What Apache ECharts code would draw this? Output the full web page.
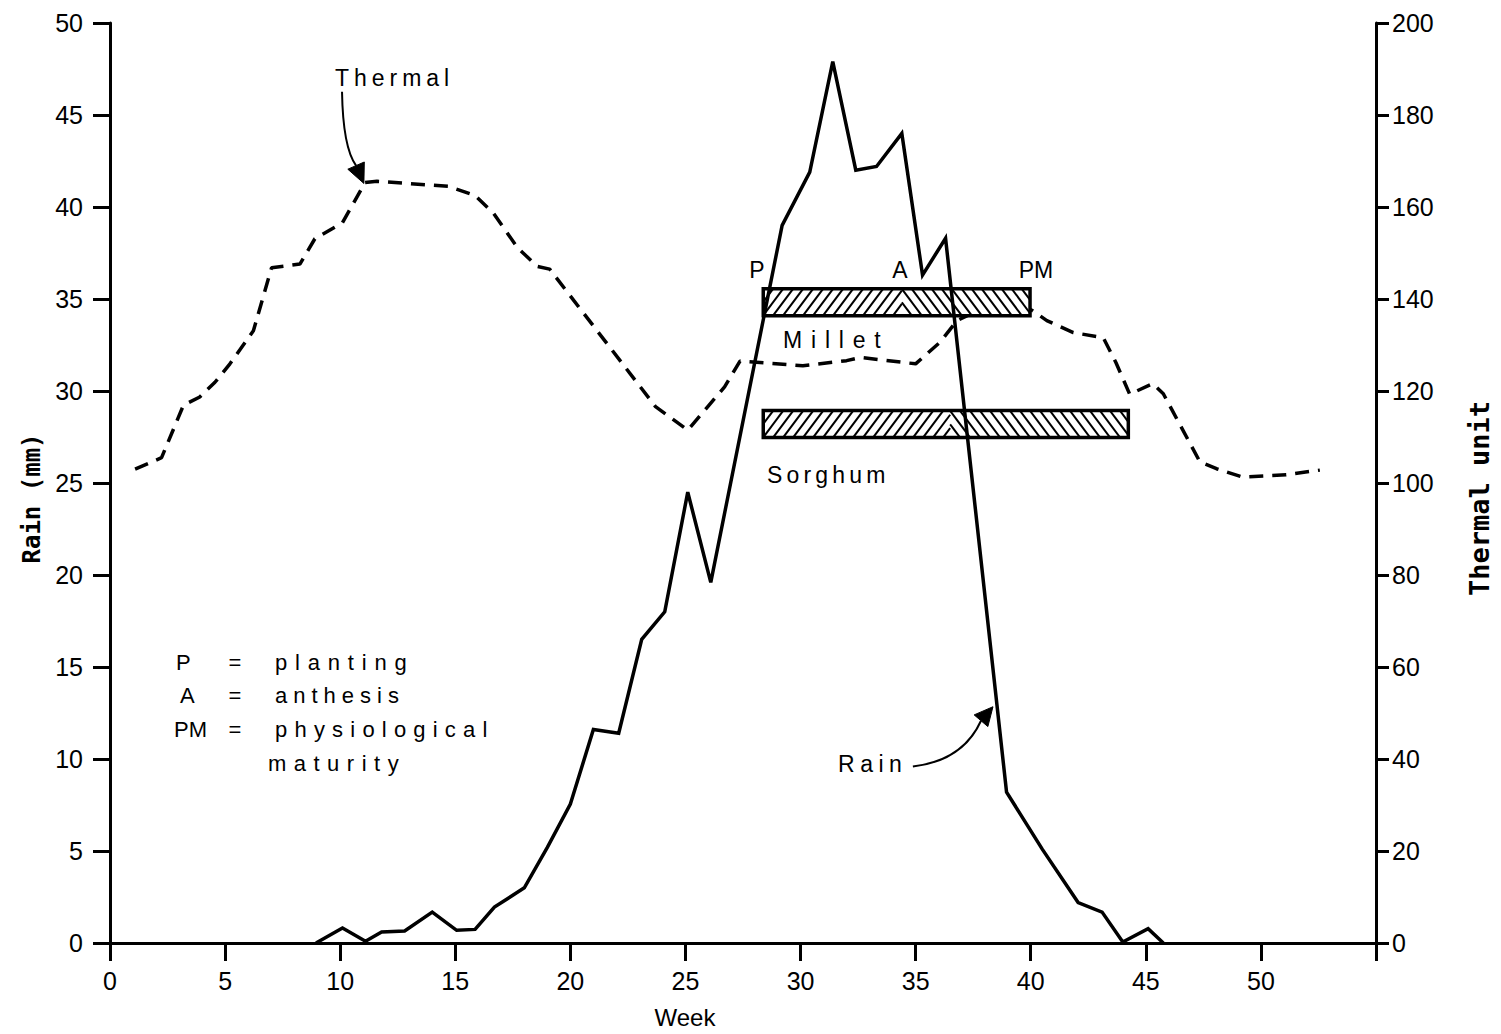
<!DOCTYPE html>
<html>
<head>
<meta charset="utf-8">
<script src="https://cdn.jsdelivr.net/npm/echarts@6/dist/echarts.min.js"></script>
<style>
  html, body { margin: 0; padding: 0; background: #fff; }
  #chart { width: 1501px; height: 1034px; }
</style>
</head>
<body>
<div id="chart"></div>
<script>
// Weekly rainfall (mm) – solid line, left axis
const rainWeek = [8.95, 10.1, 11.1, 11.8, 12.8, 14.0, 15.06, 15.86, 16.7, 18.0, 19.0, 20.0, 21.0, 22.1,
                  23.1, 24.1, 25.1, 26.1, 29.2, 30.4, 31.4, 32.4, 33.3, 34.4, 35.3, 36.3, 38.95, 40.5,
                  42.06, 43.1, 44.0, 45.1, 45.76];
const rainMm = [0, 0.81, 0.1, 0.6, 0.65, 1.68, 0.69, 0.74, 1.95, 3.0, 5.2, 7.55, 11.6, 11.4,
                16.5, 18.0, 24.5, 19.6, 39.0, 41.9, 47.9, 42.0, 42.2, 44.0, 36.3, 38.3, 8.2, 5.1,
                2.2, 1.68, 0.05, 0.78, 0];

// Weekly thermal units – dashed line, right axis
const thermalWeek = [1.09, 2.24, 3.19, 3.9, 4.56, 5.21, 6.23, 7.02, 8.25, 8.9, 10.1, 11.08, 11.6, 14.7,
                     15.86, 16.65, 17.7, 18.55, 19.1, 23.7, 25.1, 26.7, 27.37, 30.1, 32.0, 32.6, 35.0,
                     36.06, 36.8, 39.0, 40.1, 40.7, 41.85, 43.15, 43.7, 44.3, 45.3, 45.76, 47.35, 48.07,
                     49.2, 51.1, 52.56];
const thermalUnit = [103.0, 105.5, 116.9, 118.7, 121.9, 125.9, 133.1, 146.8, 147.6, 153.1, 156.6, 165.3, 165.6, 164.5,
                     162.5, 158.7, 151.2, 147.1, 146.5, 116.6, 111.5, 120.9, 126.5, 125.5, 126.6, 127.3, 125.9,
                     130.6, 135.3, 140.6, 137.4, 135.3, 132.7, 131.6, 126.2, 119.3, 121.6, 119.4, 104.6, 103.1,
                     101.3, 101.8, 102.8];

// Crop calendar: planting (P), anthesis (A), physiological maturity (PM), in weeks
const crops = ['Millet', 'Sorghum'];
const plantingWeek = [28.38, 28.38];
const anthesisWeek = [34.4, 36.5];
const maturityWeek = [39.97, 44.24];
const barLevelMm = [34.83, 28.2];

// Tick labels
const weekTicks = ['0', '5', '10', '15', '20', '25', '30', '35', '40', '45', '50'];
const rainTicks = ['0', '5', '10', '15', '20', '25', '30', '35', '40', '45', '50'];
const thermalTicks = ['0', '20', '40', '60', '80', '100', '120', '140', '160', '180', '200'];

const SANS = '"Liberation Sans", Arial, Helvetica, sans-serif';
const MONO = '"DejaVu Sans Mono", "Liberation Mono", monospace';

// Text annotations placed in (week, mm) coordinates
const notes = [
  { text: 'Thermal', at: [9.77, 47.0], align: 'left', size: 23 },
  { text: 'P', at: [28.1, 36.57], align: 'center', size: 23 },
  { text: 'A', at: [34.32, 36.57], align: 'center', size: 23 },
  { text: 'PM', at: [40.23, 36.57], align: 'center', size: 23 },
  { text: 'Millet', at: [29.24, 32.77], align: 'left', size: 23 },
  { text: 'Sorghum', at: [28.54, 25.41], align: 'left', size: 23 },
  { text: 'Rain', at: [31.63, 9.75], align: 'left', size: 23 },
  { text: 'P', at: [2.87, 15.22], align: 'left', size: 22 },
  { text: '=', at: [5.43, 15.22], align: 'center', size: 22 },
  { text: 'planting', at: [7.17, 15.22], align: 'left', size: 22 },
  { text: 'A', at: [3.04, 13.43], align: 'left', size: 22 },
  { text: '=', at: [5.43, 13.43], align: 'center', size: 22 },
  { text: 'anthesis', at: [7.17, 13.43], align: 'left', size: 22 },
  { text: 'PM', at: [2.78, 11.59], align: 'left', size: 22 },
  { text: '=', at: [5.43, 11.59], align: 'center', size: 22 },
  { text: 'physiological', at: [7.17, 11.59], align: 'left', size: 22 },
  { text: 'maturity', at: [6.86, 9.75], align: 'left', size: 22 }
];
// Letter spacing (px) for the spaced-out annotation words
const spacing = {
  'Thermal': 5, 'Millet': 8.8, 'Sorghum': 4.2, 'Rain': 5.5,
  'planting': 7.8, 'anthesis': 6, 'physiological': 7.2, 'maturity': 7.5
};

// Curved pointer arrows: start, control, end of curve, arrow tip (week, mm)
const arrows = [
  { from: [10.08, 46.26], via: [10.12, 43.23], to: [10.69, 42.25], tip: [11.03, 41.28] },
  { from: [34.88, 9.59], via: [37.05, 9.91], to: [37.84, 12.08], tip: [38.36, 12.84] }
];

function hatchLines(xa, xb, y0, y1, dir, step) {
  // diagonal hatching clipped to [xa, xb] x [y0, y1]; dir = 1 for '/', -1 for '\'
  const h = y1 - y0;
  const run = h * 0.75;
  const out = [];
  for (let x = xa - run; x < xb; x += step) {
    let t0 = Math.max(0, (xa - x) / run);
    let t1 = Math.min(1, (xb - x) / run);
    if (t1 <= t0) continue;
    const p = (t) => dir > 0 ? [x + run * t, y1 - h * t] : [x + run * t, y0 + h * t];
    const a = p(t0), b = p(t1);
    out.push({
      type: 'line',
      shape: { x1: a[0], y1: a[1], x2: b[0], y2: b[1] },
      style: { stroke: '#000', lineWidth: 2 }
    });
  }
  return out;
}

function renderCropBar(params, api) {
  const lvl = api.value(3);
  const p = api.coord([api.value(0), lvl]);
  const a = api.coord([api.value(1), lvl]);
  const m = api.coord([api.value(2), lvl]);
  const h = 27;
  const y0 = p[1] - h / 2, y1 = p[1] + h / 2;
  const children = [
    { type: 'rect', shape: { x: p[0], y: y0, width: m[0] - p[0], height: h }, style: { fill: '#fff' } }
  ];
  children.push(...hatchLines(p[0], a[0], y0, y1, 1, 10));
  children.push(...hatchLines(a[0], m[0], y0, y1, -1, 10));
  children.push({
    type: 'rect',
    shape: { x: p[0], y: y0, width: m[0] - p[0], height: h },
    style: { fill: null, stroke: '#000', lineWidth: 3.5 }
  });
  return { type: 'group', children };
}

function renderNotes(params, api) {
  const children = [];
  notes.forEach(n => {
    const c = api.coord(n.at);
    children.push({
      type: 'text',
      style: {
        text: n.text, x: c[0], y: c[1], fill: '#000',
        font: n.size + 'px ' + SANS, align: n.align, verticalAlign: 'middle'
      }
    });
  });
  arrows.forEach(ar => {
    const s = api.coord(ar.from), v = api.coord(ar.via), e = api.coord(ar.to), t = api.coord(ar.tip);
    children.push({
      type: 'bezierCurve',
      shape: { x1: s[0], y1: s[1], cpx1: v[0], cpy1: v[1], x2: e[0], y2: e[1] },
      style: { stroke: '#000', lineWidth: 2, fill: null }
    });
    const dx = t[0] - e[0], dy = t[1] - e[1];
    const L = Math.hypot(dx, dy) || 1;
    const ux = dx / L, uy = dy / L, hw = 9;
    children.push({
      type: 'polygon',
      shape: { points: [t, [e[0] - uy * hw, e[1] + ux * hw], [e[0] + uy * hw, e[1] - ux * hw]] },
      style: { fill: '#000', stroke: '#000', lineWidth: 1 }
    });
  });
  return { type: 'group', children };
}

const chart = echarts.init(document.getElementById('chart'), null, { renderer: 'svg' });

const axisLabelStyle = { color: '#000', fontSize: 25, fontFamily: SANS };

chart.setOption({
  animation: false,
  backgroundColor: '#fff',
  grid: { left: 110, right: 124, top: 23, bottom: 88 },
  xAxis: {
    type: 'value', min: 0, max: 55, interval: 5,
    name: 'Week', nameLocation: 'middle', nameGap: 62,
    nameTextStyle: { color: '#000', fontSize: 24, fontFamily: SANS, padding: [0, 116, 0, 0] },
    axisLine: { onZero: false, lineStyle: { color: '#000', width: 3 } },
    axisTick: { length: 18, lineStyle: { color: '#000', width: 3 } },
    splitLine: { show: false },
    axisLabel: Object.assign({ margin: 25, formatter: v => weekTicks[Math.round(v / 5)] ?? '' }, axisLabelStyle)
  },
  yAxis: [
    {
      type: 'value', min: 0, max: 50, interval: 5, position: 'left',
      name: 'Rain (mm)', nameLocation: 'middle', nameGap: 62, nameRotate: 90,
      nameTextStyle: { color: '#000', fontSize: 24, fontWeight: 'bold', fontFamily: MONO, padding: [0, 31, 0, 0] },
      axisLine: { show: true, lineStyle: { color: '#000', width: 3 } },
      axisTick: { show: true, length: 17, lineStyle: { color: '#000', width: 3 } },
      splitLine: { show: false },
      axisLabel: Object.assign({ margin: 27, formatter: v => rainTicks[Math.round(v / 5)] ?? '' }, axisLabelStyle)
    },
    {
      type: 'value', min: 0, max: 200, interval: 20, position: 'right',
      name: 'Thermal unit', nameLocation: 'middle', nameGap: 90, nameRotate: 90,
      nameTextStyle: { color: '#000', fontSize: 27, fontWeight: 'bold', fontFamily: MONO, padding: [0, 31, 0, 0] },
      axisLine: { show: true, lineStyle: { color: '#000', width: 3 } },
      axisTick: { show: true, length: 13, lineStyle: { color: '#000', width: 3 } },
      splitLine: { show: false },
      axisLabel: Object.assign({ margin: 16, formatter: v => thermalTicks[Math.round(v / 20)] ?? '' }, axisLabelStyle)
    }
  ],
  series: [
    {
      name: 'Thermal', type: 'line', yAxisIndex: 1, z: 2,
      data: thermalWeek.map((w, i) => [w, thermalUnit[i]]),
      symbol: 'none', silent: true,
      lineStyle: { color: '#000', width: 3.5, type: [14, 9], cap: 'butt' }
    },
    {
      name: 'Crops', type: 'custom', yAxisIndex: 0, z: 3, clip: false, silent: true,
      data: crops.map((c, i) => [plantingWeek[i], anthesisWeek[i], maturityWeek[i], barLevelMm[i]]),
      encode: { x: [0, 1, 2], y: 3 },
      renderItem: renderCropBar
    },
    {
      name: 'Rain', type: 'line', yAxisIndex: 0, z: 4,
      data: rainWeek.map((w, i) => [w, rainMm[i]]),
      symbol: 'none', silent: true,
      lineStyle: { color: '#000', width: 3.5, join: 'miter' }
    },
    {
      name: 'Notes', type: 'custom', yAxisIndex: 0, z: 5, clip: false, silent: true,
      data: [[0, 0]],
      renderItem: renderNotes
    }
  ]
});

function applySpacing() {
  document.querySelectorAll('#chart svg text').forEach(t => {
    const s = spacing[t.textContent];
    if (s != null) t.setAttribute('letter-spacing', s);
  });
}
chart.on('finished', applySpacing);
applySpacing();
setTimeout(applySpacing, 50);
</script>
</body>
</html>
